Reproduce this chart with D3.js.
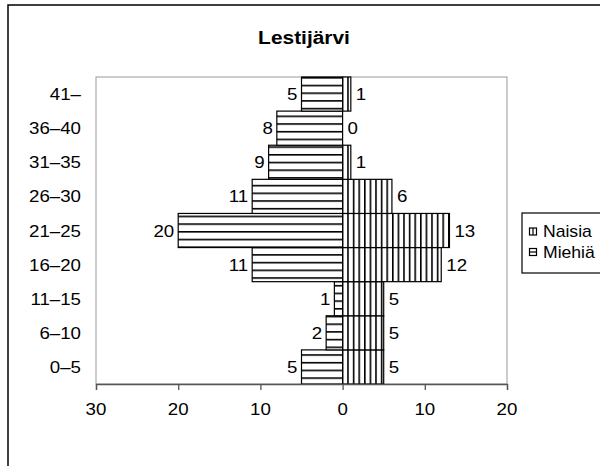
<!DOCTYPE html>
<html>
<head>
<meta charset="utf-8">
<script src="https://cdn.jsdelivr.net/npm/d3@7/dist/d3.min.js"></script>
<style>
  html, body { margin: 0; padding: 0; background: #fff; }
  svg { display: block; }
  text { font-family: "Liberation Sans", Arial, sans-serif; fill: #000; }
</style>
</head>
<body>
<svg id="chart" width="600" height="466"></svg>
<script>
// ---- data (bottom to top) ----
const ageGroups = ["0–5", "6–10", "11–15", "16–20", "21–25", "26–30", "31–35", "36–40", "41–"];
const miehia = [5, 2, 1, 11, 20, 11, 9, 8, 5];   // men (left side)
const naisia = [5, 5, 5, 12, 13, 6, 1, 0, 1];    // women (right side)
const xTicks = [-30, -20, -10, 0, 10, 20];
const titleText = "Lestijärvi";
const legendLabels = ["Naisia", "Miehiä"];

const svg = d3.select("#chart");
const SX = 1.1; // horizontal text stretch of the reference

const plot = { left: 96, right: 507, top: 77, bottom: 384 };

const x = d3.scaleLinear().domain([-30, 20]).range([plot.left, plot.right]);
const y = d3.scaleBand().domain(ageGroups).range([plot.bottom, plot.top]).padding(0);

// patterns
const defs = svg.append("defs");
const ph = defs.append("pattern").attr("id", "hstripe").attr("patternUnits", "userSpaceOnUse")
  .attr("width", 8).attr("height", 7.7);
ph.append("rect").attr("width", 8).attr("height", 7.7).attr("fill", "#fff");
ph.append("rect").attr("x", 0).attr("y", 0).attr("width", 8).attr("height", 1.6).attr("fill", "#000");

const pv = defs.append("pattern").attr("id", "vstripe").attr("patternUnits", "userSpaceOnUse")
  .attr("width", 5.6).attr("height", 8);
pv.append("rect").attr("width", 5.6).attr("height", 8).attr("fill", "#fff");
pv.append("rect").attr("x", 0).attr("y", 0).attr("width", 1.6).attr("height", 8).attr("fill", "#000");

function stretchedText(parent, px, py, str, opts) {
  const g = parent.append("g").attr("transform", `translate(${px},${py}) scale(${SX},1)`);
  const t = g.append("text").text(str)
    .attr("text-anchor", opts.anchor || "start")
    .style("font-size", (opts.size || 17) + "px");
  if (opts.bold) t.style("font-weight", "bold");
  return t;
}

// outer chart border
svg.append("rect").attr("x", 8).attr("y", 5).attr("width", 620).attr("height", 480)
  .attr("fill", "#fff").attr("stroke", "#000").attr("stroke-width", 1.5);

// plot area border
svg.append("rect").attr("x", plot.left).attr("y", plot.top)
  .attr("width", plot.right - plot.left).attr("height", plot.bottom - plot.top)
  .attr("fill", "#fff").attr("stroke", "#9a9a9a").attr("stroke-width", 1);

// title
stretchedText(svg, 304, 44, titleText, { anchor: "middle", size: 19, bold: true });

// bars - men (negative side)
svg.append("g").selectAll("rect").data(ageGroups).join("rect")
  .attr("x", (d, i) => x(-miehia[i]))
  .attr("y", d => y(d))
  .attr("width", (d, i) => x(0) - x(-miehia[i]))
  .attr("height", y.bandwidth())
  .attr("fill", "url(#hstripe)")
  .attr("stroke", "#000").attr("stroke-width", 1.2);

// bars - women
svg.append("g").selectAll("rect").data(ageGroups).join("rect")
  .attr("x", x(0))
  .attr("y", d => y(d))
  .attr("width", (d, i) => x(naisia[i]) - x(0))
  .attr("height", y.bandwidth())
  .attr("fill", "url(#vstripe)")
  .attr("stroke", "#000").attr("stroke-width", 1.2);

// value labels
const labG = svg.append("g");
ageGroups.forEach((d, i) => {
  const cy = y(d) + y.bandwidth() / 2 + 6;
  stretchedText(labG, x(-miehia[i]) - 4, cy, String(miehia[i]), { anchor: "end" });
  stretchedText(labG, x(naisia[i]) + 5, cy, String(naisia[i]), { anchor: "start" });
});

// y category labels
const yG = svg.append("g");
ageGroups.forEach(d => {
  stretchedText(yG, 81, y(d) + y.bandwidth() / 2 + 6, d, { anchor: "end" });
});

// x axis
const xAxis = svg.append("g").attr("transform", `translate(0,${plot.bottom})`)
  .call(d3.axisBottom(x).tickValues(xTicks).tickSize(6).tickFormat(""));
xAxis.select(".domain").attr("stroke", "#555").attr("stroke-width", 1.3);
xAxis.selectAll(".tick line").attr("stroke", "#555").attr("stroke-width", 1.3);
const tickLabG = svg.append("g");
xTicks.forEach(v => {
  stretchedText(tickLabG, x(v), 415, String(Math.abs(v)), { anchor: "middle" });
});

// legend
const lg = svg.append("g");
lg.append("rect").attr("x", 522).attr("y", 213).attr("width", 100).attr("height", 60)
  .attr("fill", "#fff").attr("stroke", "#000").attr("stroke-width", 1.2);
legendLabels.forEach((lab, i) => {
  const ly = 228 + i * 20.5;
  lg.append("rect").attr("x", 529.5).attr("y", ly).attr("width", 7).attr("height", 7)
    .attr("fill", "#fff").attr("stroke", "#000").attr("stroke-width", 1.2);
  if (i === 0) {
    lg.append("line").attr("x1", 533).attr("x2", 533).attr("y1", ly).attr("y2", ly + 7)
      .attr("stroke", "#000").attr("stroke-width", 1.2);
  } else {
    lg.append("line").attr("x1", 529.5).attr("x2", 536.5).attr("y1", ly + 3.5).attr("y2", ly + 3.5)
      .attr("stroke", "#000").attr("stroke-width", 1.2);
  }
  stretchedText(lg, 543, ly + 9, lab, { anchor: "start", size: 16 });
});
</script>
</body>
</html>
